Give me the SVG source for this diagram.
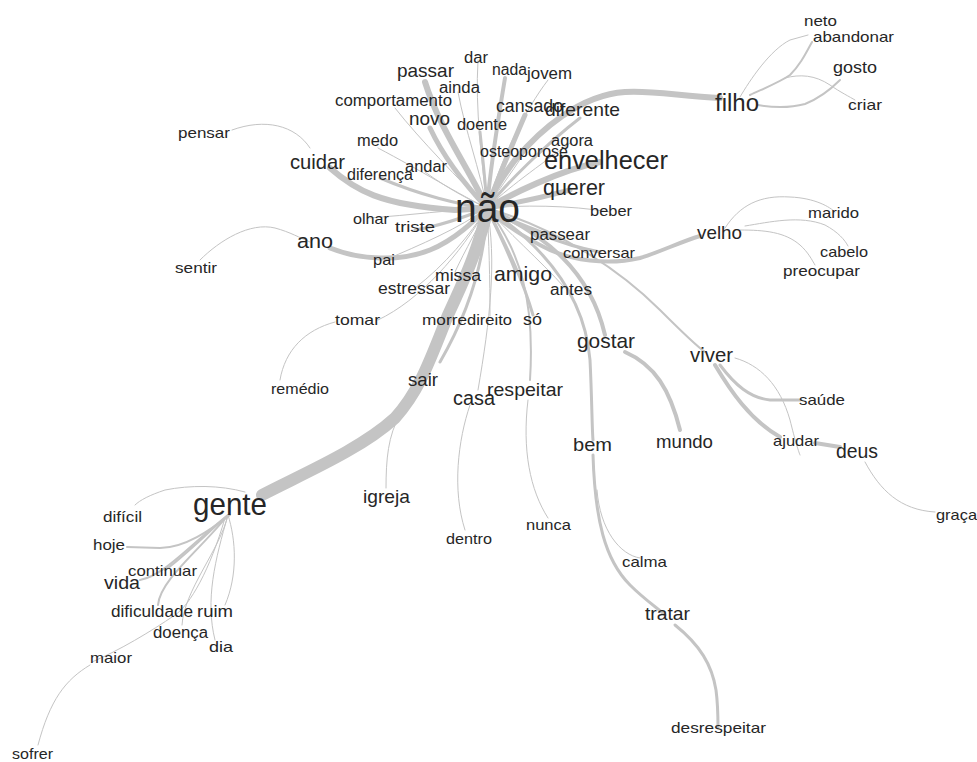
<svg xmlns="http://www.w3.org/2000/svg" width="977" height="762" viewBox="0 0 977 762">
<style>
.e{fill:none;stroke:#c4c4c4;stroke-linecap:round;stroke-linejoin:round}
.w1{stroke-width:1}.w2{stroke-width:2}.w3{stroke-width:3}.w4{stroke-width:4}.w5{stroke-width:5}.w6{stroke-width:6}.w12{stroke-width:12}
text{font-family:"Liberation Sans",Arial,sans-serif;fill:#262626}
</style>
<rect width="977" height="762" fill="#ffffff"/>
<g id="connectors">
<path class="e w12" d="M487,212 C478,250 462,285 448,315 C430,360 420,390 395,418 C360,450 300,475 262,495"/>
<path class="e w6" d="M425,82 C440,130 470,170 487,208"/>
<path class="e w1" d="M478,60 C475,110 482,160 487,208"/>
<path class="e w4" d="M505,78 C498,120 490,170 487,208"/>
<path class="e w1" d="M548,80 C525,110 500,160 487,208"/>
<path class="e w1" d="M458,92 C465,130 480,170 487,208"/>
<path class="e w1" d="M395,108 C420,140 460,180 487,208"/>
<path class="e w5" d="M430,128 C445,160 470,190 487,208"/>
<path class="e w3" d="M480,132 C483,160 486,190 487,208"/>
<path class="e w5" d="M525,115 C510,150 495,185 487,208"/>
<path class="e w3" d="M580,118 C545,145 505,185 487,208"/>
<path class="e w6" d="M720,98 C680,96 650,90 625,92 C580,95 540,130 515,160 C500,180 490,198 487,208"/>
<path class="e w1" d="M570,143 C540,165 505,190 487,208"/>
<path class="e w1" d="M525,152 C510,175 495,195 487,208"/>
<path class="e w6" d="M600,162 C560,170 510,195 487,208"/>
<path class="e w1" d="M378,148 C420,170 460,195 487,208"/>
<path class="e w6" d="M330,168 C355,190 380,205 455,210 L487,208"/>
<path class="e w3" d="M380,178 C420,195 460,205 487,208"/>
<path class="e w1" d="M425,172 C450,190 470,200 487,208"/>
<path class="e w1" d="M232,130 C265,118 295,125 310,148"/>
<path class="e w5" d="M570,190 C540,198 505,205 487,208"/>
<path class="e w1" d="M610,212 C570,205 520,205 487,208"/>
<path class="e w1" d="M370,218 C410,215 450,210 487,208"/>
<path class="e w3" d="M415,230 C445,225 470,215 487,208"/>
<path class="e w5" d="M330,248 C360,260 400,262 430,250 C455,240 475,220 487,208"/>
<path class="e w1" d="M200,260 C220,240 250,222 275,228 C290,232 300,238 310,242"/>
<path class="e w1" d="M385,260 C420,245 460,228 487,208"/>
<path class="e w3" d="M555,237 C530,228 505,218 487,208"/>
<path class="e w3" d="M600,252 C560,245 515,225 487,208"/>
<path class="e w4" d="M700,236 C680,242 660,252 640,258 C610,265 570,262 540,245 C515,232 497,218 487,208"/>
<path class="e w1" d="M725,228 C740,205 760,195 790,197 C815,198 830,207 835,212"/>
<path class="e w1" d="M745,226 C770,222 800,215 825,225 C838,232 845,240 848,246"/>
<path class="e w1" d="M740,230 C765,230 785,232 800,245 C808,252 812,260 815,265"/>
<path class="e w1" d="M455,272 C465,250 480,225 487,208"/>
<path class="e w3" d="M515,270 C505,245 495,225 487,208"/>
<path class="e w1" d="M415,288 C445,265 470,235 487,208"/>
<path class="e w1" d="M565,288 C540,260 505,230 487,208"/>
<path class="e w3" d="M487,208 C485,260 470,310 440,362"/>
<path class="e w1" d="M378,320 C420,300 460,255 487,208"/>
<path class="e w1" d="M335,322 C305,330 285,350 280,380"/>
<path class="e w1" d="M445,315 C460,280 478,240 487,208"/>
<path class="e w1" d="M490,316 C490,280 489,240 487,208"/>
<path class="e w3" d="M533,315 C520,270 500,235 487,208"/>
<path class="e w1" d="M487,208 C497,260 490,320 478,390"/>
<path class="e w1" d="M470,405 C458,440 452,490 465,530"/>
<path class="e w2" d="M487,208 C520,250 535,300 530,380"/>
<path class="e w1" d="M528,400 C522,450 530,490 548,518"/>
<path class="e w1" d="M400,415 C388,435 386,460 386,488"/>
<path class="e w4" d="M487,208 C545,235 590,270 605,335"/>
<path class="e w3" d="M487,208 C550,250 585,300 590,360 C592,400 592,430 593,440"/>
<path class="e w3" d="M593,455 C595,520 605,560 630,585 C645,600 660,610 665,615"/>
<path class="e w1" d="M597,490 C600,530 620,555 640,558"/>
<path class="e w3" d="M675,625 C700,645 712,665 716,690 C718,705 718,720 718,728"/>
<path class="e w4" d="M625,352 C655,365 670,390 680,430"/>
<path class="e w2" d="M487,208 C560,230 620,270 660,310 C680,330 695,345 705,352"/>
<path class="e w3" d="M720,365 C735,385 750,398 770,400 L800,400"/>
<path class="e w4" d="M715,365 C730,390 750,420 780,437"/>
<path class="e w4" d="M815,443 L840,447"/>
<path class="e w1" d="M735,358 C760,365 780,385 790,420 C795,440 798,450 800,455"/>
<path class="e w1" d="M865,462 C880,490 900,510 935,512"/>
<path class="e w1" d="M740,97 C750,80 770,50 790,40 L808,35"/>
<path class="e w2" d="M750,95 C765,88 780,82 790,75 C800,65 805,55 812,42"/>
<path class="e w1" d="M785,78 C800,74 815,75 830,85 C840,92 850,97 855,100"/>
<path class="e w2" d="M758,105 C775,108 790,108 805,104 C820,98 832,88 840,80"/>
<path class="e w1" d="M245,492 C220,485 190,485 165,490 C150,495 140,500 135,505"/>
<path class="e w2" d="M230,515 C210,530 185,548 160,548 L127,547"/>
<path class="e w2" d="M228,515 C200,540 180,560 165,570"/>
<path class="e w2" d="M228,515 C190,545 165,575 140,580"/>
<path class="e w2" d="M228,515 C200,550 160,580 158,605"/>
<path class="e w1" d="M228,515 C236,540 238,575 225,605"/>
<path class="e w1" d="M228,515 C220,550 184,590 182,625"/>
<path class="e w1" d="M228,515 C215,560 205,600 215,640"/>
<path class="e w1" d="M225,518 C210,570 190,605 175,615 C150,632 120,650 92,662"/>
<path class="e w1" d="M90,665 C65,680 50,700 38,745"/>
</g>
<g id="n-nao"><text x="455" y="222" font-size="41" textLength="65" lengthAdjust="spacingAndGlyphs">não</text></g>
<g id="n-gente"><text x="193" y="515" font-size="32" textLength="74" lengthAdjust="spacingAndGlyphs">gente</text></g>
<g id="n-envelhecer"><text x="544" y="169" font-size="26" textLength="124" lengthAdjust="spacingAndGlyphs">envelhecer</text></g>
<g id="n-filho"><text x="715" y="111" font-size="23" textLength="44" lengthAdjust="spacingAndGlyphs">filho</text></g>
<g id="n-querer"><text x="543" y="195" font-size="22" textLength="62" lengthAdjust="spacingAndGlyphs">querer</text></g>
<g id="n-cuidar"><text x="290" y="169" font-size="21" textLength="55" lengthAdjust="spacingAndGlyphs">cuidar</text></g>
<g id="n-amigo"><text x="494" y="281" font-size="21" textLength="58" lengthAdjust="spacingAndGlyphs">amigo</text></g>
<g id="n-gostar"><text x="577" y="348" font-size="21" textLength="58" lengthAdjust="spacingAndGlyphs">gostar</text></g>
<g id="n-viver"><text x="690" y="362" font-size="20" textLength="43" lengthAdjust="spacingAndGlyphs">viver</text></g>
<g id="n-velho"><text x="697" y="239" font-size="19" textLength="45" lengthAdjust="spacingAndGlyphs">velho</text></g>
<g id="n-passar"><text x="397" y="77" font-size="19" textLength="57" lengthAdjust="spacingAndGlyphs">passar</text></g>
<g id="n-novo"><text x="409" y="125" font-size="19" textLength="41" lengthAdjust="spacingAndGlyphs">novo</text></g>
<g id="n-cansado"><text x="496" y="112" font-size="19" textLength="67" lengthAdjust="spacingAndGlyphs">cansado</text></g>
<g id="n-diferente"><text x="545" y="116" font-size="19" textLength="75" lengthAdjust="spacingAndGlyphs">diferente</text></g>
<g id="n-ano"><text x="297" y="248" font-size="20" textLength="36" lengthAdjust="spacingAndGlyphs">ano</text></g>
<g id="n-casa"><text x="453" y="405" font-size="20" textLength="42" lengthAdjust="spacingAndGlyphs">casa</text></g>
<g id="n-respeitar"><text x="487" y="396" font-size="19" textLength="76" lengthAdjust="spacingAndGlyphs">respeitar</text></g>
<g id="n-sair"><text x="408" y="386" font-size="19" textLength="30" lengthAdjust="spacingAndGlyphs">sair</text></g>
<g id="n-bem"><text x="573" y="451" font-size="19" textLength="39" lengthAdjust="spacingAndGlyphs">bem</text></g>
<g id="n-mundo"><text x="656" y="448" font-size="19" textLength="57" lengthAdjust="spacingAndGlyphs">mundo</text></g>
<g id="n-deus"><text x="836" y="458" font-size="20" textLength="42" lengthAdjust="spacingAndGlyphs">deus</text></g>
<g id="n-tratar"><text x="645" y="620" font-size="19" textLength="45" lengthAdjust="spacingAndGlyphs">tratar</text></g>
<g id="n-igreja"><text x="363" y="503" font-size="19" textLength="47" lengthAdjust="spacingAndGlyphs">igreja</text></g>
<g id="n-vida"><text x="104" y="589" font-size="18" textLength="36" lengthAdjust="spacingAndGlyphs">vida</text></g>
<g id="n-ruim"><text x="197" y="617" font-size="17" textLength="36" lengthAdjust="spacingAndGlyphs">ruim</text></g>
<g id="n-neto"><text x="804" y="26" font-size="15" textLength="33" lengthAdjust="spacingAndGlyphs">neto</text></g>
<g id="n-abandonar"><text x="813" y="42" font-size="15" textLength="81" lengthAdjust="spacingAndGlyphs">abandonar</text></g>
<g id="n-gosto"><text x="833" y="73" font-size="16" textLength="44" lengthAdjust="spacingAndGlyphs">gosto</text></g>
<g id="n-criar"><text x="848" y="110" font-size="15" textLength="34" lengthAdjust="spacingAndGlyphs">criar</text></g>
<g id="n-dar"><text x="464" y="63" font-size="16" textLength="24" lengthAdjust="spacingAndGlyphs">dar</text></g>
<g id="n-nada"><text x="492" y="75" font-size="16" textLength="35" lengthAdjust="spacingAndGlyphs">nada</text></g>
<g id="n-jovem"><text x="527" y="79" font-size="16" textLength="45" lengthAdjust="spacingAndGlyphs">jovem</text></g>
<g id="n-ainda"><text x="439" y="93" font-size="16" textLength="41" lengthAdjust="spacingAndGlyphs">ainda</text></g>
<g id="n-comportamento"><text x="335" y="106" font-size="16" textLength="117" lengthAdjust="spacingAndGlyphs">comportamento</text></g>
<g id="n-doente"><text x="457" y="130" font-size="16" textLength="50" lengthAdjust="spacingAndGlyphs">doente</text></g>
<g id="n-medo"><text x="357" y="146" font-size="16" textLength="41" lengthAdjust="spacingAndGlyphs">medo</text></g>
<g id="n-agora"><text x="551" y="146" font-size="16" textLength="42" lengthAdjust="spacingAndGlyphs">agora</text></g>
<g id="n-osteoporose"><text x="480" y="157" font-size="16" textLength="88" lengthAdjust="spacingAndGlyphs">osteoporose</text></g>
<g id="n-diferenca"><text x="347" y="180" font-size="16" textLength="66" lengthAdjust="spacingAndGlyphs">diferença</text></g>
<g id="n-andar"><text x="405" y="172" font-size="16" textLength="42" lengthAdjust="spacingAndGlyphs">andar</text></g>
<g id="n-pensar"><text x="178" y="138" font-size="15" textLength="52" lengthAdjust="spacingAndGlyphs">pensar</text></g>
<g id="n-olhar"><text x="353" y="224" font-size="15" textLength="36" lengthAdjust="spacingAndGlyphs">olhar</text></g>
<g id="n-triste"><text x="395" y="232" font-size="15" textLength="40" lengthAdjust="spacingAndGlyphs">triste</text></g>
<g id="n-sentir"><text x="175" y="273" font-size="15" textLength="42" lengthAdjust="spacingAndGlyphs">sentir</text></g>
<g id="n-pai"><text x="373" y="265" font-size="15" textLength="22" lengthAdjust="spacingAndGlyphs">pai</text></g>
<g id="n-missa"><text x="435" y="281" font-size="16" textLength="46" lengthAdjust="spacingAndGlyphs">missa</text></g>
<g id="n-estressar"><text x="378" y="294" font-size="16" textLength="72" lengthAdjust="spacingAndGlyphs">estressar</text></g>
<g id="n-tomar"><text x="335" y="325" font-size="15" textLength="45" lengthAdjust="spacingAndGlyphs">tomar</text></g>
<g id="n-morre"><text x="422" y="325" font-size="15" textLength="45" lengthAdjust="spacingAndGlyphs">morre</text></g>
<g id="n-direito"><text x="467" y="325" font-size="15" textLength="45" lengthAdjust="spacingAndGlyphs">direito</text></g>
<g id="n-so"><text x="523" y="325" font-size="17" textLength="19" lengthAdjust="spacingAndGlyphs">só</text></g>
<g id="n-beber"><text x="590" y="216" font-size="15" textLength="42" lengthAdjust="spacingAndGlyphs">beber</text></g>
<g id="n-passear"><text x="530" y="240" font-size="16" textLength="60" lengthAdjust="spacingAndGlyphs">passear</text></g>
<g id="n-conversar"><text x="563" y="258" font-size="15" textLength="72" lengthAdjust="spacingAndGlyphs">conversar</text></g>
<g id="n-antes"><text x="550" y="295" font-size="16" textLength="42" lengthAdjust="spacingAndGlyphs">antes</text></g>
<g id="n-marido"><text x="808" y="218" font-size="15" textLength="51" lengthAdjust="spacingAndGlyphs">marido</text></g>
<g id="n-cabelo"><text x="820" y="257" font-size="15" textLength="48" lengthAdjust="spacingAndGlyphs">cabelo</text></g>
<g id="n-preocupar"><text x="783" y="276" font-size="15" textLength="77" lengthAdjust="spacingAndGlyphs">preocupar</text></g>
<g id="n-saude"><text x="799" y="405" font-size="15" textLength="46" lengthAdjust="spacingAndGlyphs">saúde</text></g>
<g id="n-ajudar"><text x="773" y="446" font-size="15" textLength="46" lengthAdjust="spacingAndGlyphs">ajudar</text></g>
<g id="n-graca"><text x="936" y="520" font-size="15" textLength="41" lengthAdjust="spacingAndGlyphs">graça</text></g>
<g id="n-remedio"><text x="271" y="394" font-size="15" textLength="58" lengthAdjust="spacingAndGlyphs">remédio</text></g>
<g id="n-calma"><text x="622" y="567" font-size="15" textLength="45" lengthAdjust="spacingAndGlyphs">calma</text></g>
<g id="n-desrespeitar"><text x="671" y="733" font-size="15" textLength="95" lengthAdjust="spacingAndGlyphs">desrespeitar</text></g>
<g id="n-nunca"><text x="526" y="530" font-size="15" textLength="45" lengthAdjust="spacingAndGlyphs">nunca</text></g>
<g id="n-dentro"><text x="446" y="544" font-size="15" textLength="46" lengthAdjust="spacingAndGlyphs">dentro</text></g>
<g id="n-dificil"><text x="103" y="522" font-size="15" textLength="39" lengthAdjust="spacingAndGlyphs">difícil</text></g>
<g id="n-hoje"><text x="93" y="550" font-size="15" textLength="32" lengthAdjust="spacingAndGlyphs">hoje</text></g>
<g id="n-continuar"><text x="128" y="576" font-size="15" textLength="69" lengthAdjust="spacingAndGlyphs">continuar</text></g>
<g id="n-dificuldade"><text x="111" y="617" font-size="16" textLength="82" lengthAdjust="spacingAndGlyphs">dificuldade</text></g>
<g id="n-doenca"><text x="153" y="638" font-size="16" textLength="55" lengthAdjust="spacingAndGlyphs">doença</text></g>
<g id="n-dia"><text x="209" y="652" font-size="15" textLength="24" lengthAdjust="spacingAndGlyphs">dia</text></g>
<g id="n-maior"><text x="90" y="663" font-size="15" textLength="42" lengthAdjust="spacingAndGlyphs">maior</text></g>
<g id="n-sofrer"><text x="12" y="759" font-size="15" textLength="41" lengthAdjust="spacingAndGlyphs">sofrer</text></g>
</svg>
